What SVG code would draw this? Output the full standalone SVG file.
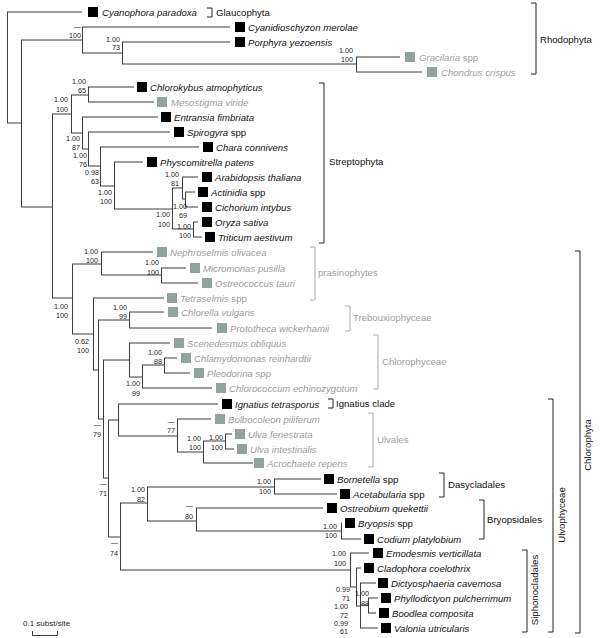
<svg xmlns="http://www.w3.org/2000/svg" width="600" height="638" viewBox="0 0 600 638">
<style>
text{font-family:"Liberation Sans",Arial,sans-serif}
.n{font-size:9.6px;font-style:italic;fill:#111}
.g{fill:#9c9c9c}
.r{font-style:normal}
.s{font-size:7.2px;fill:#222;text-anchor:end}
.c{font-size:9.6px;fill:#111}
.cg{font-size:9.6px;fill:#a0a0a0}
.tree{stroke:#3c3c3c;stroke-width:1;fill:none}
.br{stroke:#222;stroke-width:1;fill:none}
.brg{stroke:#aaa;stroke-width:1;fill:none}
.sq{fill:#000}
.sqg{fill:#93a29e}
</style>
<g id="connectors" class="tree">
<path d="M7.5 12V123M7 12H82M7 123H21"/>
<path d="M21.5 40V207M21 40H82M21 207H52"/>
<path d="M82.5 27V53M82 27H230M82 53H122"/>
<path d="M122.5 42V64M122 42H230M122 64H356"/>
<path d="M356.5 57V72M356 57H400M356 72H422"/>
<path d="M52.5 114V298M52 114H71M52 298H72"/>
<path d="M71.5 95V133M71 95H88M71 133H82"/>
<path d="M88.5 87V102M88 87H134M88 102H154"/>
<path d="M82.5 117V149M82 117H158M82 149H88"/>
<path d="M88.5 132V166M88 132H170M88 166H100"/>
<path d="M100.5 147V186M100 147H199M100 186H114"/>
<path d="M114.5 162V209M114 162H143M114 209H172"/>
<path d="M172.5 188V229M172 188H182M172 229H193"/>
<path d="M182.5 177V199M182 177H198M182 199H185"/>
<path d="M185.5 192V207M185 192H195M185 207H198"/>
<path d="M193.5 222V237M193 222H198M193 237H202"/>
<path d="M72.5 264V334M72 264H101M72 334H93"/>
<path d="M101.5 252V275M101 252H153M101 275H161"/>
<path d="M161.5 268V283M161 268H186M161 283H198"/>
<path d="M93.5 298V370M93 298H164M93 370H98"/>
<path d="M98.5 320V419M98 320H129M98 419H103"/>
<path d="M129.5 312V328M129 312H164M129 328H212"/>
<path d="M103.5 360V478M103 360H129M103 478H108"/>
<path d="M129.5 343V377M129 343H170M129 377H142"/>
<path d="M142.5 365V388M142 365H164M142 388H212"/>
<path d="M164.5 358V373M164 358H177M164 373H190"/>
<path d="M108.5 420V537M108 420H118M108 537H120"/>
<path d="M118.5 404V436M118 404H218M118 436H177"/>
<path d="M177.5 419V452M177 419H211M177 452H203"/>
<path d="M203.5 441V463M203 441H225M203 463H253"/>
<path d="M225.5 434V449M225 434H232M225 449H234"/>
<path d="M120.5 503V570M120 503H147M120 570H350"/>
<path d="M147.5 487V521M147 487H274M147 521H196"/>
<path d="M274.5 479V494M274 479H321M274 494H337"/>
<path d="M196.5 508V531M196 508H323M196 531H341"/>
<path d="M341.5 523V539M341 523H342M341 539H361"/>
<path d="M350.5 553V587M350 553H369M350 587H356"/>
<path d="M356.5 568V606M356 568H361M356 606H360"/>
<path d="M360.5 583V628M360 583H376M360 605H368M360 628H378"/>
<path d="M368.5 598V613M368 598H378M368 613H376"/>
</g>
<g id="support">
<text class="s" x="81" y="29">—</text><text class="s" x="81" y="38">100</text>
<text class="s" x="120" y="42">1.00</text><text class="s" x="120" y="50">73</text>
<text class="s" x="353" y="53">1.00</text><text class="s" x="353" y="62">100</text>
<text class="s" x="86" y="84">1.00</text><text class="s" x="86" y="93">65</text>
<text class="s" x="68" y="102">1.00</text><text class="s" x="68" y="112">100</text>
<text class="s" x="80" y="141">1.00</text><text class="s" x="80" y="150">87</text>
<text class="s" x="87" y="158">1.00</text><text class="s" x="87" y="166.5">76</text>
<text class="s" x="99" y="175">0.98</text><text class="s" x="99" y="183.5">63</text>
<text class="s" x="112" y="195">1.00</text><text class="s" x="112" y="204">100</text>
<text class="s" x="170" y="217">1.00</text><text class="s" x="170" y="227">100</text>
<text class="s" x="179" y="177">1.00</text><text class="s" x="179" y="186">81</text>
<text class="s" x="187" y="209">1.00</text><text class="s" x="187" y="218">69</text>
<text class="s" x="191" y="229">1.00</text><text class="s" x="191" y="238">100</text>
<text class="s" x="68" y="309">1.00</text><text class="s" x="68" y="318">100</text>
<text class="s" x="98" y="254">1.00</text><text class="s" x="98" y="263">100</text>
<text class="s" x="159" y="265">1.00</text><text class="s" x="159" y="275">100</text>
<text class="s" x="127" y="310">1.00</text><text class="s" x="127" y="319">99</text>
<text class="s" x="89" y="344">0.62</text><text class="s" x="89" y="353">100</text>
<text class="s" x="162" y="355">1.00</text><text class="s" x="162" y="364">88</text>
<text class="s" x="140" y="386">1.00</text><text class="s" x="140" y="396">99</text>
<text class="s" x="101" y="427">—</text><text class="s" x="101" y="437">79</text>
<text class="s" x="107" y="486">—</text><text class="s" x="107" y="496">71</text>
<text class="s" x="175" y="424">—</text><text class="s" x="175" y="433">77</text>
<text class="s" x="201" y="441">1.00</text><text class="s" x="201" y="450">100</text>
<text class="s" x="223" y="440">1.00</text><text class="s" x="223" y="450">100</text>
<text class="s" x="118" y="545">—</text><text class="s" x="118" y="556">74</text>
<text class="s" x="145" y="492">1.00</text><text class="s" x="145" y="502">82</text>
<text class="s" x="271" y="484">1.00</text><text class="s" x="271" y="494">100</text>
<text class="s" x="193" y="508">—</text><text class="s" x="193" y="519">80</text>
<text class="s" x="337" y="529">1.00</text><text class="s" x="337" y="538">100</text>
<text class="s" x="346" y="556">1.00</text><text class="s" x="346" y="566">100</text>
<text class="s" x="350" y="592">0.99</text><text class="s" x="350" y="601">71</text>
<text class="s" x="348" y="609">1.00</text><text class="s" x="348" y="618">72</text>
<text class="s" x="348" y="625.5">0.99</text><text class="s" x="348" y="634">61</text>
<text class="s" x="369" y="596">1.00</text><text class="s" x="369" y="606">88</text>
</g>
<g id="taxa">
<g id="cyanophora"><rect class="sq" x="88" y="7" width="10" height="10"/><text class="n" x="102" y="15.5">Cyanophora paradoxa</text></g>
<g id="cyanidioschyzon"><rect class="sq" x="235" y="22" width="10" height="10"/><text class="n" x="248" y="30.5">Cyanidioschyzon merolae</text></g>
<g id="porphyra"><rect class="sq" x="235" y="37" width="10" height="10"/><text class="n" x="248" y="45.5">Porphyra yezoensis</text></g>
<g id="gracilaria"><rect class="sqg" x="405" y="52" width="10" height="10"/><text class="n g" x="419" y="60.5">Gracilaria<tspan class="r"> spp</tspan></text></g>
<g id="chondrus"><rect class="sqg" x="427" y="67" width="10" height="10"/><text class="n g" x="441" y="75.5">Chondrus crispus</text></g>
<g id="chlorokybus"><rect class="sq" x="137" y="82" width="10" height="10"/><text class="n" x="150" y="90.5">Chlorokybus atmophyticus</text></g>
<g id="mesostigma"><rect class="sqg" x="157" y="97" width="10" height="10"/><text class="n g" x="171" y="105.5">Mesostigma viride</text></g>
<g id="entransia"><rect class="sq" x="161" y="112" width="10" height="10"/><text class="n" x="174" y="120.5">Entransia fimbriata</text></g>
<g id="spirogyra"><rect class="sq" x="174" y="127" width="10" height="10"/><text class="n" x="187" y="135.5">Spirogyra<tspan class="r"> spp</tspan></text></g>
<g id="chara"><rect class="sq" x="203" y="142" width="10" height="10"/><text class="n" x="216" y="150.5">Chara connivens</text></g>
<g id="physcomitrella"><rect class="sq" x="147" y="157" width="10" height="10"/><text class="n" x="160" y="165.5">Physcomitrella patens</text></g>
<g id="arabidopsis"><rect class="sq" x="202" y="172" width="10" height="10"/><text class="n" x="215" y="180.5">Arabidopsis thaliana</text></g>
<g id="actinidia"><rect class="sq" x="198" y="187" width="10" height="10"/><text class="n" x="211" y="195.5">Actinidia<tspan class="r"> spp</tspan></text></g>
<g id="cichorium"><rect class="sq" x="202" y="202" width="10" height="10"/><text class="n" x="215" y="210.5">Cichorium intybus</text></g>
<g id="oryza"><rect class="sq" x="202" y="217" width="10" height="10"/><text class="n" x="215" y="225.5">Oryza sativa</text></g>
<g id="triticum"><rect class="sq" x="205" y="232" width="10" height="10"/><text class="n" x="218" y="240.5">Triticum aestivum</text></g>
<g id="nephroselmis"><rect class="sqg" x="157" y="247" width="10" height="10"/><text class="n g" x="170" y="255.5">Nephroselmis olivacea</text></g>
<g id="micromonas"><rect class="sqg" x="190" y="263" width="10" height="10"/><text class="n g" x="203" y="271.5">Micromonas pusilla</text></g>
<g id="ostreococcus"><rect class="sqg" x="202" y="278" width="10" height="10"/><text class="n g" x="215" y="286.5">Ostreococcus tauri</text></g>
<g id="tetraselmis"><rect class="sqg" x="167" y="293" width="10" height="10"/><text class="n g" x="180" y="301.5">Tetraselmis<tspan class="r"> spp</tspan></text></g>
<g id="chlorella"><rect class="sqg" x="168" y="307" width="10" height="10"/><text class="n g" x="181" y="315.5">Chlorella vulgaris</text></g>
<g id="prototheca"><rect class="sqg" x="217" y="323" width="10" height="10"/><text class="n g" x="230" y="331.5">Prototheca wickerhamii</text></g>
<g id="scenedesmus"><rect class="sqg" x="174" y="338" width="10" height="10"/><text class="n g" x="187" y="346.5">Scenedesmus obliquus</text></g>
<g id="chlamydomonas"><rect class="sqg" x="181" y="353" width="10" height="10"/><text class="n g" x="194" y="361.5">Chlamydomonas reinhardtii</text></g>
<g id="pleodorina"><rect class="sqg" x="194" y="368" width="10" height="10"/><text class="n g" x="207" y="376.5">Pleodorina spp</text></g>
<g id="chlorococcum"><rect class="sqg" x="216" y="383" width="10" height="10"/><text class="n g" x="229" y="391.5">Chlorococcum echinozygotum</text></g>
<g id="ignatius"><rect class="sq" x="222" y="399" width="10" height="10"/><text class="n" x="235" y="407.5">Ignatius tetrasporus</text></g>
<g id="bolbocoleon"><rect class="sqg" x="215" y="414" width="10" height="10"/><text class="n g" x="228" y="422.5">Bolbocoleon piliferum</text></g>
<g id="ulvafen"><rect class="sqg" x="235" y="429" width="10" height="10"/><text class="n g" x="248" y="437.5">Ulva fenestrata</text></g>
<g id="ulvaint"><rect class="sqg" x="237" y="444" width="10" height="10"/><text class="n g" x="250" y="452.5">Ulva intestinalis</text></g>
<g id="acrochaete"><rect class="sqg" x="254" y="458" width="10" height="10"/><text class="n g" x="267" y="466.5">Acrochaete repens</text></g>
<g id="bornetella"><rect class="sq" x="324" y="474" width="10" height="10"/><text class="n" x="337" y="482.5">Bornetella<tspan class="r"> spp</tspan></text></g>
<g id="acetabularia"><rect class="sq" x="340" y="489" width="10" height="10"/><text class="n" x="353" y="497.5">Acetabularia<tspan class="r"> spp</tspan></text></g>
<g id="ostreobium"><rect class="sq" x="327" y="503" width="10" height="10"/><text class="n" x="340" y="511.5">Ostreobium quekettii</text></g>
<g id="bryopsis"><rect class="sq" x="345" y="518" width="10" height="10"/><text class="n" x="358" y="526.5">Bryopsis<tspan class="r"> spp</tspan></text></g>
<g id="codium"><rect class="sq" x="364" y="534" width="10" height="10"/><text class="n" x="377" y="542.5">Codium platylobium</text></g>
<g id="emodesmis"><rect class="sq" x="373" y="548" width="10" height="10"/><text class="n" x="386" y="556.5">Emodesmis verticillata</text></g>
<g id="cladophora"><rect class="sq" x="364" y="563" width="10" height="10"/><text class="n" x="377" y="571.5">Cladophora coelothrix</text></g>
<g id="dictyosphaeria"><rect class="sq" x="378" y="578" width="10" height="10"/><text class="n" x="391" y="586.5">Dictyosphaeria cavernosa</text></g>
<g id="phyllodictyon"><rect class="sq" x="381" y="593" width="10" height="10"/><text class="n" x="394" y="601.5">Phyllodictyon pulcherrimum</text></g>
<g id="boodlea"><rect class="sq" x="379" y="608" width="10" height="10"/><text class="n" x="392" y="616.5">Boodlea composita</text></g>
<g id="valonia"><rect class="sq" x="381" y="623" width="10" height="10"/><text class="n" x="394" y="631.5">Valonia utricularis</text></g>
</g>
<g id="clades">
<g id="glaucophyta"><path class="br" d="M207 8H212V17H207"/><text class="c" x="216" y="16">Glaucophyta</text></g>
<g id="rhodophyta"><path class="br" d="M531 3H536V74H531"/><text class="c" x="540" y="43">Rhodophyta</text></g>
<g id="streptophyta"><path class="br" d="M319 83H324V243H319"/><text class="c" x="329" y="165">Streptophyta</text></g>
<g id="prasinophytes"><path class="brg" d="M310 247H315V300H310"/><text class="cg" x="318" y="276">prasinophytes</text></g>
<g id="trebouxiophyceae"><path class="brg" d="M345 306H350V331H345"/><text class="cg" x="353" y="321">Trebouxiophyceae</text></g>
<g id="chlorophyceae"><path class="brg" d="M373 335H378V389H373"/><text class="cg" x="382" y="365">Chlorophyceae</text></g>
<g id="ignatiusclade"><path class="br" d="M328 399H333V408H328"/><text class="c" x="336" y="407">Ignatius clade</text></g>
<g id="ulvales"><path class="brg" d="M368 413H373V467H368"/><text class="cg" x="377" y="443">Ulvales</text></g>
<g id="dasycladales"><path class="br" d="M439 473H444V497H439"/><text class="c" x="448" y="488">Dasycladales</text></g>
<g id="bryopsidales"><path class="br" d="M479 500H484V539H479"/><text class="c" x="487" y="523">Bryopsidales</text></g>
<g id="siphonocladales"><path class="br" d="M522 550H527V632H522"/><text class="c" transform="translate(538 590) rotate(-90)" text-anchor="middle">Siphonocladales</text></g>
<g id="ulvophyceae"><path class="br" d="M548 399H553V632H548"/><text class="c" transform="translate(565 515) rotate(-90)" text-anchor="middle">Ulvophyceae</text></g>
<g id="chlorophyta"><path class="br" d="M575 251H580V633H575"/><text class="c" transform="translate(591 445) rotate(-90)" text-anchor="middle">Chlorophyta</text></g>
</g>
<g id="scale">
<text style="font-size:8px;fill:#222" x="23" y="626">0.1 subst/site</text>
<path class="tree" d="M32.5 631V635.5H57.5V631"/>
</g>
</svg>
